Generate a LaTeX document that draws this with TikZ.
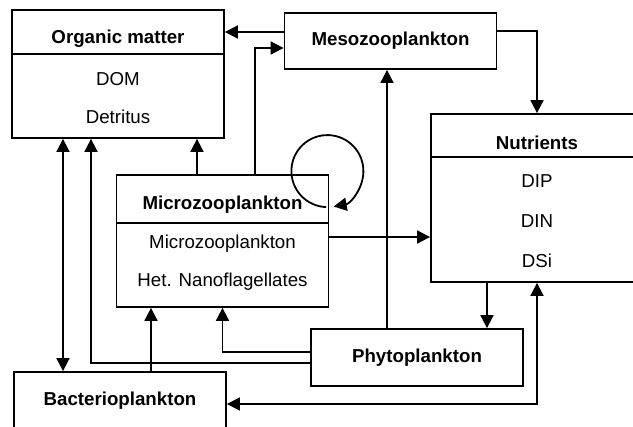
\documentclass[tikz,border=0pt]{standalone}
\usepackage{fontspec}
\setmainfont{Liberation Sans}
\usetikzlibrary{arrows.meta, calc, positioning}
\tikzset{
  arr/.style    = {-{Triangle[length=13pt, width=13pt]}, line width=1.8pt, black},
  dblarr/.style = {{Triangle[length=13pt, width=13pt]}-{Triangle[length=13pt, width=13pt]},
                   line width=1.8pt, black},
  ttl/.style    = {font=\fontsize{18.7}{22}\selectfont\bfseries, inner sep=0pt},
  itm/.style    = {font=\fontsize{18.7}{22}\selectfont, inner sep=0pt},
}

\begin{document}
\begin{tikzpicture}[
  x=1pt, y=1pt,
  box/.style = {draw, line width=1.8pt, minimum width=212pt, inner sep=0pt},
]
\useasboundingbox (0,0) rectangle (633,-427);

% ---- compartments ---------------------------------------------------------
\node[box, minimum height=128pt] (org)   at (118,-74)    {};
\node[box, minimum height=56pt, ttl]  (meso)  at (390.5,-41) {Mesozooplankton};
\node[box, minimum height=168pt] (nut)   at (537,-198)   {};
\node[box, minimum height=132pt] (micro) at (222.5,-241) {};
\node[box, minimum height=57pt, ttl]  (phyto) at (417,-357.5) {Phytoplankton};
\node[box, minimum height=57pt, ttl]  (bact)  at (120,-400.5) {Bacterioplankton};

% ---- headers and contents --------------------------------------------------
\draw[line width=1.8pt] ([yshift=-45pt]org.north west) -- ([yshift=-45pt]org.north east);
\node[ttl] (orgT)  at ([yshift=-30pt]org.north)  {Organic matter};
\node[itm] (dom)   at ([yshift=-70pt]org.north)  {DOM};
\node[itm] (det)   at ([yshift=-108pt]org.north) {Detritus};

\draw[line width=1.8pt] ([yshift=-44pt]nut.north west) -- ([yshift=-44pt]nut.north east);
\node[ttl] (nutT)  at ([yshift=-30pt]nut.north)  {Nutrients};
\node[itm] (dip)   at ([yshift=-68pt]nut.north)  {DIP};
\node[itm] (din)   at ([yshift=-108pt]nut.north) {DIN};
\node[itm] (dsi)   at ([yshift=-148pt]nut.north) {DSi};

\draw[line width=1.8pt] ([yshift=-49pt]micro.north west) -- ([yshift=-49pt]micro.north east);
\node[ttl] (microT) at ([yshift=-31pt]micro.north)  {Microzooplankton};
\node[itm] (mic)    at ([yshift=-70pt]micro.north)  {Microzooplankton};
\node[itm] (hnf)    at ([yshift=-108pt]micro.north) {Het. Nanoflagellates};

% ---- fluxes ----------------------------------------------------------------
\draw[arr] ([yshift=9pt]meso.west) -- ([yshift=9pt]meso.west -| org.east);
\draw[arr] ([xshift=32.5pt]micro.north) |- ([yshift=-7pt]meso.west);
\draw[arr] ([yshift=10pt]meso.east) -| (nut.north);
\draw[arr] ([yshift=4pt]micro.east) -- ([yshift=4pt]micro.east -| nut.west);
\draw[arr] ([xshift=-30pt]phyto.north) -- ([xshift=-30pt]phyto.north |- meso.south);
\draw[arr] ([xshift=-50pt]nut.south) -- ([xshift=-50pt]nut.south |- phyto.north);
\draw[dblarr] ([yshift=-3.5pt]bact.east) -| (nut.south);
\draw[dblarr] ([xshift=-55pt]org.south) -- ([xshift=-55pt]org.south |- bact.north);
\draw[arr] ([yshift=-5.5pt]phyto.west) -| ([xshift=-27pt]org.south);
\draw[arr] ([xshift=-25.5pt]micro.north) -- ([xshift=-25.5pt]micro.north |- org.south);
\draw[arr] ([xshift=31pt]bact.north) -- ([xshift=31pt]bact.north |- micro.south);
\draw[arr] ([yshift=5.5pt]phyto.west) -| (micro.south);

% grazing within the microzooplankton
\coordinate (loopc) at ([shift={(-2pt,3pt)}]micro.north east);
\draw[arr] (loopc) ++(268:36pt) arc[start angle=268, end angle=-80, radius=36pt];

\end{tikzpicture}
\end{document}
